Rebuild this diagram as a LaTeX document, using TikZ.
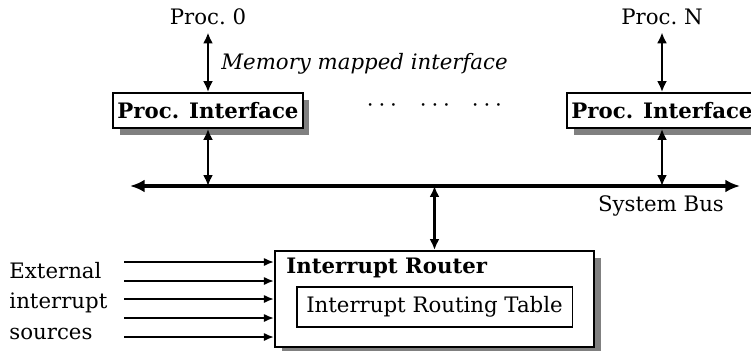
\documentclass[tikz,border=0pt]{standalone}
\usepackage{fontspec}
\setmainfont{DejaVu Serif}[Scale=1.17]
\usepackage{tikz}
\usetikzlibrary{arrows.meta}
\usetikzlibrary{shadows}
\tikzset{
	edge/.style={<->,>={Latex[length=6pt,width=5.5pt]},line width=1.2pt},
	inedge/.style={->,>={Latex[length=5.5pt,width=4.5pt]},line width=1pt},
	bus/.style={<->,>={Latex[length=8pt,width=7pt]},line width=2.2pt},
	box/.style={draw,line width=1.1pt,fill=white,inner xsep=2pt,drop shadow={shadow xshift=3.8pt,shadow yshift=-3.8pt,fill=gray,opacity=1}}
}
\begin{document}
\begin{tikzpicture}[x=0.55pt,y=-0.55pt]
		\useasboundingbox (0,0) rectangle (751,351);
		\node (p0) at (208,17) {Proc.~0};
		\node (pN) at (662,17) {Proc.~N};
		\node[box,minimum width=104pt,minimum height=19.2pt] (if0) at (208,110.5) {\textbf{Proc. Interface}};
		\node[box,minimum width=104pt,minimum height=19.2pt] (ifN) at (662,110.5) {\textbf{Proc. Interface}};
		\node[anchor=west,font=\itshape] (mmi) at (214,64) {Memory mapped interface};
		\node[font=\Large] (d1) at (382,106) {$\cdots$};
		\node[font=\Large] (d2) at (435,106) {$\cdots$};
		\node[font=\Large] (d3) at (487,106) {$\cdots$};
		
		\coordinate (busL) at (130,186);
		\coordinate (busR) at (740,186);
		\draw[bus] (busL) -- (busR);
		\node (sb) at (661,206) {System Bus};
		
		\node[box,minimum width=175.5pt,minimum height=52.8pt] (router) at (434.5,299) {};
		\node[anchor=west,font=\bfseries] (irl) at (279,268) {Interrupt Router};
		\node[draw,line width=0.6pt,minimum width=151.3pt,minimum height=22pt] (table) at (434.5,307) {Interrupt Routing Table};
		\node[anchor=west,align=left] (ext) at (2,301) {External\\[5pt]interrupt\\[5pt]sources};
		
		\draw[edge] (p0) -- (if0);
		\draw[edge] (pN) -- (ifN);
		\draw[edge] (if0) -- (if0 |- busL);
		\draw[edge] (ifN) -- (ifN |- busL);
		\draw[edge] (router) -- (router |- busL);
		\foreach \y [count=\i] in {262,281,299,318,337} {
			\coordinate (in\i) at (124,\y);
			\draw[inedge] (in\i) -- (in\i -| router.west);
		}
\end{tikzpicture}
\end{document}
